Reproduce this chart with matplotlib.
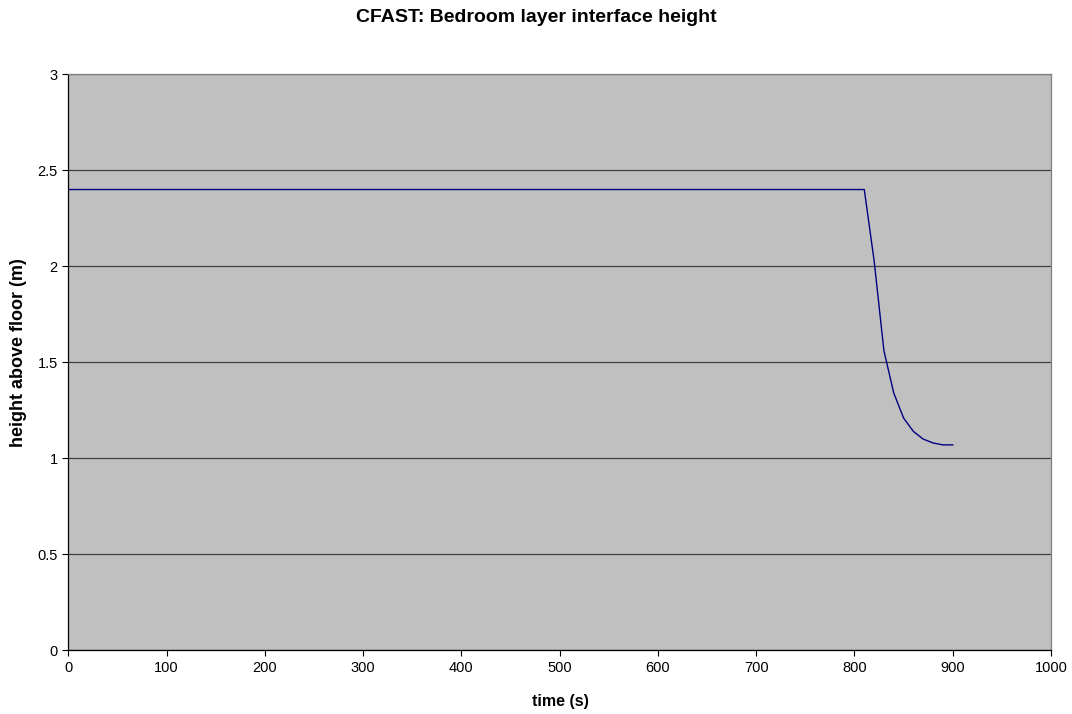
# CFAST bedroom layer interface height

import matplotlib.pyplot as plt

plt.rcParams['font.family'] = ['Liberation Sans', 'DejaVu Sans']

time_s = [0, 810, 820, 830, 840, 850, 860, 870, 880, 890, 900]
height_m = [2.40, 2.40, 2.03, 1.56, 1.34, 1.21, 1.14, 1.10, 1.08, 1.07, 1.07]

x_ticks = list(range(0, 1001, 100))
y_ticks = [0, 0.5, 1, 1.5, 2, 2.5, 3]
y_tick_labels = ['0', '0.5', '1', '1.5', '2', '2.5', '3']

W, H = 1072, 714
fig = plt.figure(figsize=(W / 100, H / 100), dpi=100)
ax = fig.add_axes([0.0637, 0.0892, 0.9167, 0.8067])
ax.set_facecolor('#C0C0C0')

ax.plot(time_s, height_m, color='#000080', linewidth=1.0)

ax.set_xlim(0, 1000)
ax.set_ylim(0, 3)
ax.set_xticks(x_ticks)
ax.set_yticks(y_ticks)
ax.set_yticklabels(y_tick_labels)
ax.tick_params(direction='out', length=4, width=0.8, labelsize=10.5, color='black')

# horizontal gridlines only
ax.yaxis.grid(True, color='#404040', linewidth=0.9)
ax.set_axisbelow(True)

for side in ['top', 'right']:
    ax.spines[side].set_color('#808080')
    ax.spines[side].set_linewidth(0.9)
for side in ['left', 'bottom']:
    ax.spines[side].set_color('black')
    ax.spines[side].set_linewidth(0.9)

# titles placed in figure pixels to match the original layout
fig.text(536 / W, 1 - 17.5 / H, 'CFAST: Bedroom layer interface height',
         fontsize=14, fontweight='bold', ha='center', va='center')
fig.text(560 / W, 1 - 701.5 / H, 'time (s)',
         fontsize=11.5, fontweight='bold', ha='center', va='center')
fig.text(19 / W, 1 - 352.5 / H, 'height above floor (m)',
         fontsize=13, fontweight='bold', ha='center', va='center', rotation=90)

fig.savefig('out.png', dpi=100)
